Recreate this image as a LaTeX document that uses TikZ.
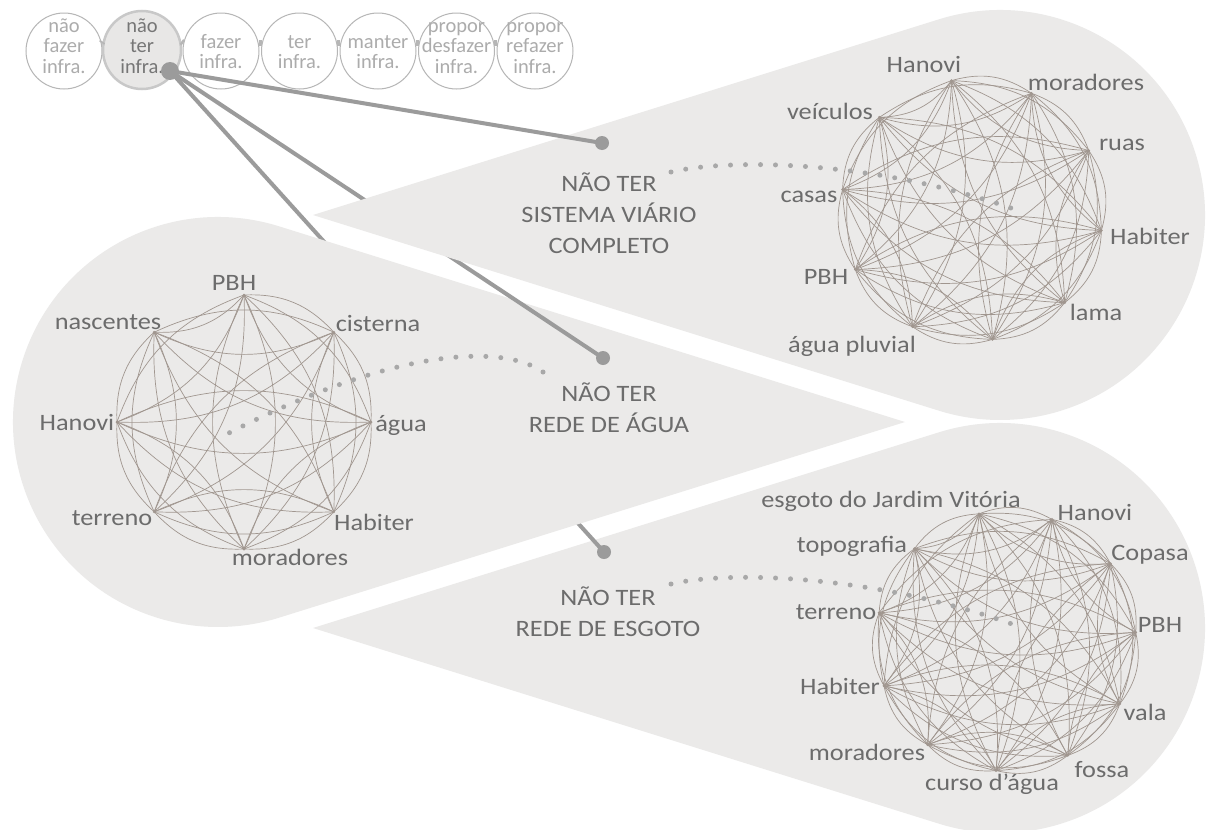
\documentclass[tikz,border=0pt]{standalone}
\usepackage{fontspec}
\setmainfont{Carlito}
\newfontfamily\labfont{Carlito}[FakeStretch=1.12]
\usetikzlibrary{calc}
\definecolor{blobfill}{RGB}{235,234,233}
\definecolor{linkgray}{RGB}{155,155,155}
\definecolor{edgecol}{RGB}{160,150,143}
\definecolor{labcol}{RGB}{108,108,108}
\definecolor{bubtext}{RGB}{172,172,172}
\definecolor{bubtextdark}{RGB}{118,118,118}
\definecolor{bubline}{RGB}{182,182,182}
\definecolor{bubsel}{RGB}{232,231,230}
\definecolor{bubselline}{RGB}{200,200,200}
\definecolor{dotcol}{RGB}{168,168,168}
\tikzset{
  blob/.style={fill=blobfill},
  link/.style={draw=linkgray, line width=4pt},
  enddot/.style={circle, fill=linkgray, minimum size=14pt, inner sep=0pt},
  srcdot/.style={circle, fill=linkgray, minimum size=18pt, inner sep=0pt},
  netedge/.style={draw=edgecol, line width=0.7pt},
  vertex/.style={circle, fill=edgecol, minimum size=3pt, inner sep=0pt},
  netlabel/.style={text=labcol, font=\labfont\fontsize{23.5}{31}\selectfont, inner sep=0pt, anchor=base},
  biglabel/.style={text=labcol, font=\labfont\fontsize{23.5}{31}\selectfont, align=center, inner sep=0pt},
  bubble/.style={circle, draw=bubline, line width=1pt, minimum size=76pt, inner sep=0pt},
  bubblesel/.style={circle, draw=bubselline, fill=bubsel, line width=2.5pt, minimum size=78pt, inner sep=0pt},
  bubtxt/.style={text=bubtext, font=\fontsize{20.5}{20.5}\selectfont, align=center, inner sep=0pt},
  bublink/.style={draw=bubline, line width=6pt},
  dotline/.style={draw=dotcol, line width=5pt, line cap=round, dash pattern=on 0pt off 15pt}
}
\newcommand\netedges[2]{%
  \foreach \i in {1,...,#2}{%
    \foreach \j in {1,...,#2}{%
      \ifnum\j>\i\relax
        \draw[netedge] (#1\i) to[bend left=25] (#1\j);
        \ifodd\numexpr\i+\j\relax\else
          \draw[netedge] (#1\j) to[bend left=25] (#1\i);
        \fi
      \fi
    }%
  }%
}
\begin{document}
\begin{tikzpicture}[x=1pt,y=1pt]
\useasboundingbox (0,0) rectangle (1208,-830);
\fill[white] (0,0) rectangle (1208,-830);

% ---------- bubbles ----------
\node[bubble] (b1) at (64,-51) {};
\node[bubblesel] (b2) at (142,-50) {};
\node[bubble] (b3) at (221,-51) {};
\node[bubble] (b4) at (299.5,-51) {};
\node[bubble] (b5) at (378,-51) {};
\node[bubble] (b6) at (456.5,-51) {};
\node[bubble] (b7) at (535,-51) {};
\draw[bublink] (b1.12) -- (b2.168);
\draw[bublink] (b2.12) -- (b3.168);
\draw[bublink] (b3.12) -- (b4.168);
\draw[bublink] (b4.12) -- (b5.168);
\draw[bublink] (b5.12) -- (b6.168);
\draw[bublink] (b6.12) -- (b7.168);
\node[bubtxt] (bt1) at (64,-48.4) {\strut não\\fazer\\infra.\strut};
\node[bubtxt, text=bubtextdark] (bt2) at (142,-48.4) {\strut não\\ter\\infra.\strut};
\node[bubtxt] (bt3) at (221,-54.2) {\strut fazer\\infra.\strut};
\node[bubtxt] (bt4) at (299.5,-54.2) {\strut ter\\infra.\strut};
\node[bubtxt] (bt5) at (378,-54.2) {\strut manter\\infra.\strut};
\node[bubtxt] (bt6) at (456.5,-48.4) {\strut propor\\desfazer\\infra.\strut};
\node[bubtxt] (bt7) at (535,-48.4) {\strut propor\\refazer\\infra.\strut};

% ---------- anchor coordinates ----------
\coordinate (src) at (170,-71);
\coordinate (c1) at (602,-143);
\coordinate (c2) at (603,-358);
\coordinate (c3) at (604,-552);

% ---------- shapes and links (layered) ----------
\fill[blob] (313,-628) -- (938.83,-432.35) arc[start angle=107.36, end angle=-107.36, radius=205] -- cycle;
\draw[link] (src) -- (c3);
\fill[blob] (905,-422) -- (279.17,-226.35) arc[start angle=72.64, end angle=287.36, radius=205] -- cycle;
\draw[link] (src) -- (c2);
\fill[blob] (313,-215) -- (938.83,-19.35) arc[start angle=107.36, end angle=-107.36, radius=205] -- cycle;
\draw[link] (src) -- (c1);

\node[srcdot] (s) at (src) {};
\node[enddot] (d1) at (c1) {};
\node[enddot] (d2) at (c2) {};
\node[enddot] (d3) at (c3) {};

% ---------- middle network (8) ----------
\foreach \k in {1,...,8}{
  \coordinate (m\k) at ($(244,-422)+({90-45*(\k-1)}:127)$);
}
\netedges{m}{8}
\foreach \k in {1,...,8}{ \node[vertex] (mv\k) at (m\k) {}; }

% ---------- top network (10) ----------
\foreach \k in {1,...,10}{
  \coordinate (t\k) at ($(972,-210)+({99-36*(\k-1)}:131)$);
}
\netedges{t}{10}
\foreach \k in {1,...,10}{ \node[vertex] (tv\k) at (t\k) {}; }

% ---------- bottom network (11) ----------
\foreach \k in {1,...,11}{
  \coordinate (u\k) at ($(1006,-641)+({102-32.7273*(\k-1)}:130)$);
}
\netedges{u}{11}
\foreach \k in {1,...,11}{ \node[vertex] (uv\k) at (u\k) {}; }

% ---------- dotted connectors ----------
\coordinate (p1a) at (671,-172);
\coordinate (p1b) at (1022,-212);
\coordinate (p2a) at (543,-372);
\coordinate (p2b) at (227,-434);
\coordinate (p3a) at (671,-584);
\coordinate (p3b) at (1023,-628);
\draw[dotline] (p1a) .. controls (730,-158) and (880,-160) .. (p1b);
\draw[dotline] (p2a) .. controls (505,-345) and (400,-345) .. (p2b);
\draw[dotline] (p3a) .. controls (730,-570) and (880,-575) .. (p3b);

% ---------- big labels ----------
\node[biglabel] (L1) at (609,-216) {\strut NÃO TER\\SISTEMA VIÁRIO\\COMPLETO\strut};
\node[biglabel] (L2) at (609,-411) {\strut NÃO TER\\REDE DE ÁGUA\strut};
\node[biglabel] (L3) at (608,-615) {\strut NÃO TER\\REDE DE ESGOTO\strut};

% ---------- middle labels ----------
\node[netlabel] (ml1) at (234,-290) {PBH};
\node[netlabel] (ml2) at (378,-331) {cisterna};
\node[netlabel] (ml3) at (401,-431) {água};
\node[netlabel] (ml4) at (374,-530) {Habiter};
\node[netlabel] (ml5) at (290,-565) {moradores};
\node[netlabel] (ml6) at (112,-525) {terreno};
\node[netlabel] (ml7) at (77,-430) {Hanovi};
\node[netlabel] (ml8) at (108,-329) {nascentes};

% ---------- top labels ----------
\node[netlabel] (tl1) at (924,-72) {Hanovi};
\node[netlabel] (tl2) at (1086,-90) {moradores};
\node[netlabel] (tl3) at (1122,-150) {ruas};
\node[netlabel] (tl4) at (1150,-244) {Habiter};
\node[netlabel] (tl5) at (1096,-320) {lama};
\node[netlabel] (tl7) at (852,-352) {água pluvial};
\node[netlabel] (tl8) at (826,-284) {PBH};
\node[netlabel] (tl9) at (809,-202) {casas};
\node[netlabel] (tl10) at (830,-119) {veículos};

% ---------- bottom labels ----------
\node[netlabel] (ul1) at (891,-507) {esgoto do Jardim Vitória};
\node[netlabel] (ul2) at (1095,-520) {Hanovi};
\node[netlabel] (ul3) at (1150,-560) {Copasa};
\node[netlabel] (ul4) at (1160,-632) {PBH};
\node[netlabel] (ul5) at (1145,-720) {vala};
\node[netlabel] (ul6) at (1102,-777) {fossa};
\node[netlabel] (ul7) at (992,-790) {curso d’água};
\node[netlabel] (ul8) at (867,-760) {moradores};
\node[netlabel] (ul9) at (840,-694) {Habiter};
\node[netlabel] (ul10) at (836,-619) {terreno};
\node[netlabel] (ul11) at (852,-552) {topografia};
\end{tikzpicture}
\end{document}
